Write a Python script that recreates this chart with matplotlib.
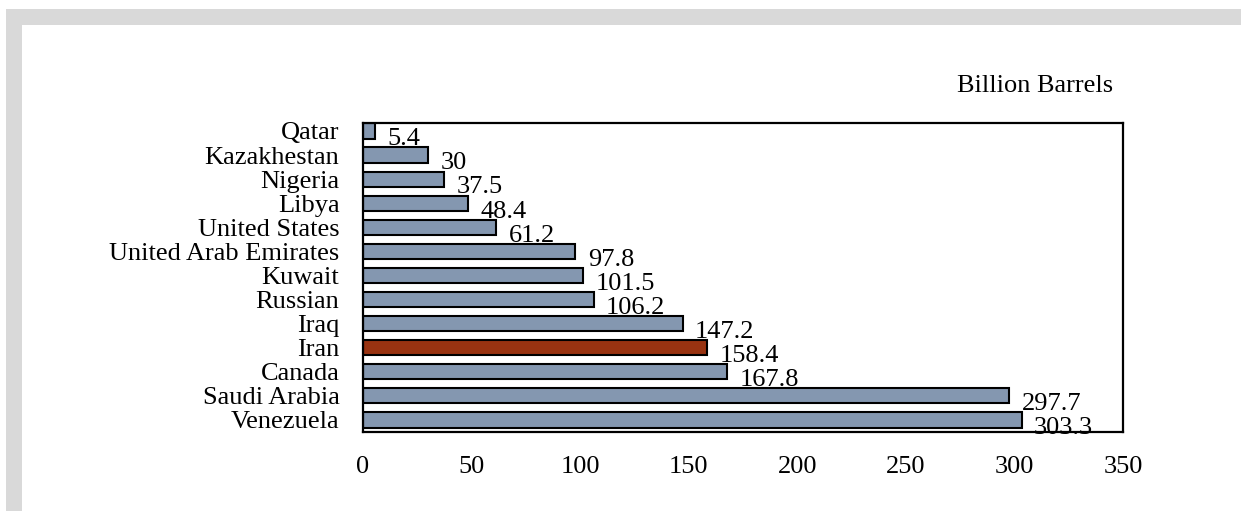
import matplotlib
matplotlib.use("Agg")
import matplotlib.pyplot as plt
from matplotlib.patches import Rectangle

plt.rcParams["font.family"] = ["Liberation Serif", "DejaVu Serif"]

# data, bottom to top
countries = [
    "Venezuela",
    "Saudi Arabia",
    "Canada",
    "Iran",
    "Iraq",
    "Russian",
    "Kuwait",
    "United Arab Emirates",
    "United States",
    "Libya",
    "Nigeria",
    "Kazakhestan",
    "Qatar",
]
reserves = [303.3, 297.7, 167.8, 158.4, 147.2, 106.2, 101.5, 97.8, 61.2, 48.4, 37.5, 30, 5.4]
xticks = [0, 50, 100, 150, 200, 250, 300, 350]

bar_color = "#8497b0"
iran_color = "#993311"
colors = [iran_color if c == "Iran" else bar_color for c in countries]

fig = plt.figure(figsize=(12.5, 5.11), dpi=100)

# grey frame around the figure (top, left, right)
fig.patches.append(Rectangle((6 / 1250, 0), 1235 / 1250, 1 - 9 / 511,
                             transform=fig.transFigure, facecolor="#d9d9d9",
                             edgecolor="none", zorder=-2))
fig.patches.append(Rectangle((22 / 1250, 0), 1219 / 1250, 1 - 25 / 511,
                             transform=fig.transFigure, facecolor="white",
                             edgecolor="none", zorder=-1))

ax = fig.add_axes([363 / 1250, 1 - 432 / 511, 760 / 1250, 309 / 511])
ax.patch.set_alpha(0)

ypos = list(range(len(countries)))
ax.barh(ypos, reserves, height=0.63, color=colors, edgecolor="black", linewidth=1.5)

for y, v in zip(ypos, reserves):
    ax.annotate(f"{v:g}", (v, y), xytext=(9, -6), textcoords="offset points",
                ha="left", va="center", fontsize=19, annotation_clip=False)

ax.set_xlim(0, 350)
ax.set_ylim(-0.5, 12.33)
ax.set_xticks(xticks)
ax.set_yticks(ypos)
ax.set_yticklabels(countries)
ax.tick_params(axis="both", length=0, labelsize=19)
ax.tick_params(axis="x", pad=17)
ax.tick_params(axis="y", pad=17)
for s in ax.spines.values():
    s.set_linewidth(1.6)

fig.text(957 / 1250, 1 - 86 / 511, "Billion Barrels", ha="left", va="center", fontsize=19)

fig.savefig("out.png", dpi=100)
